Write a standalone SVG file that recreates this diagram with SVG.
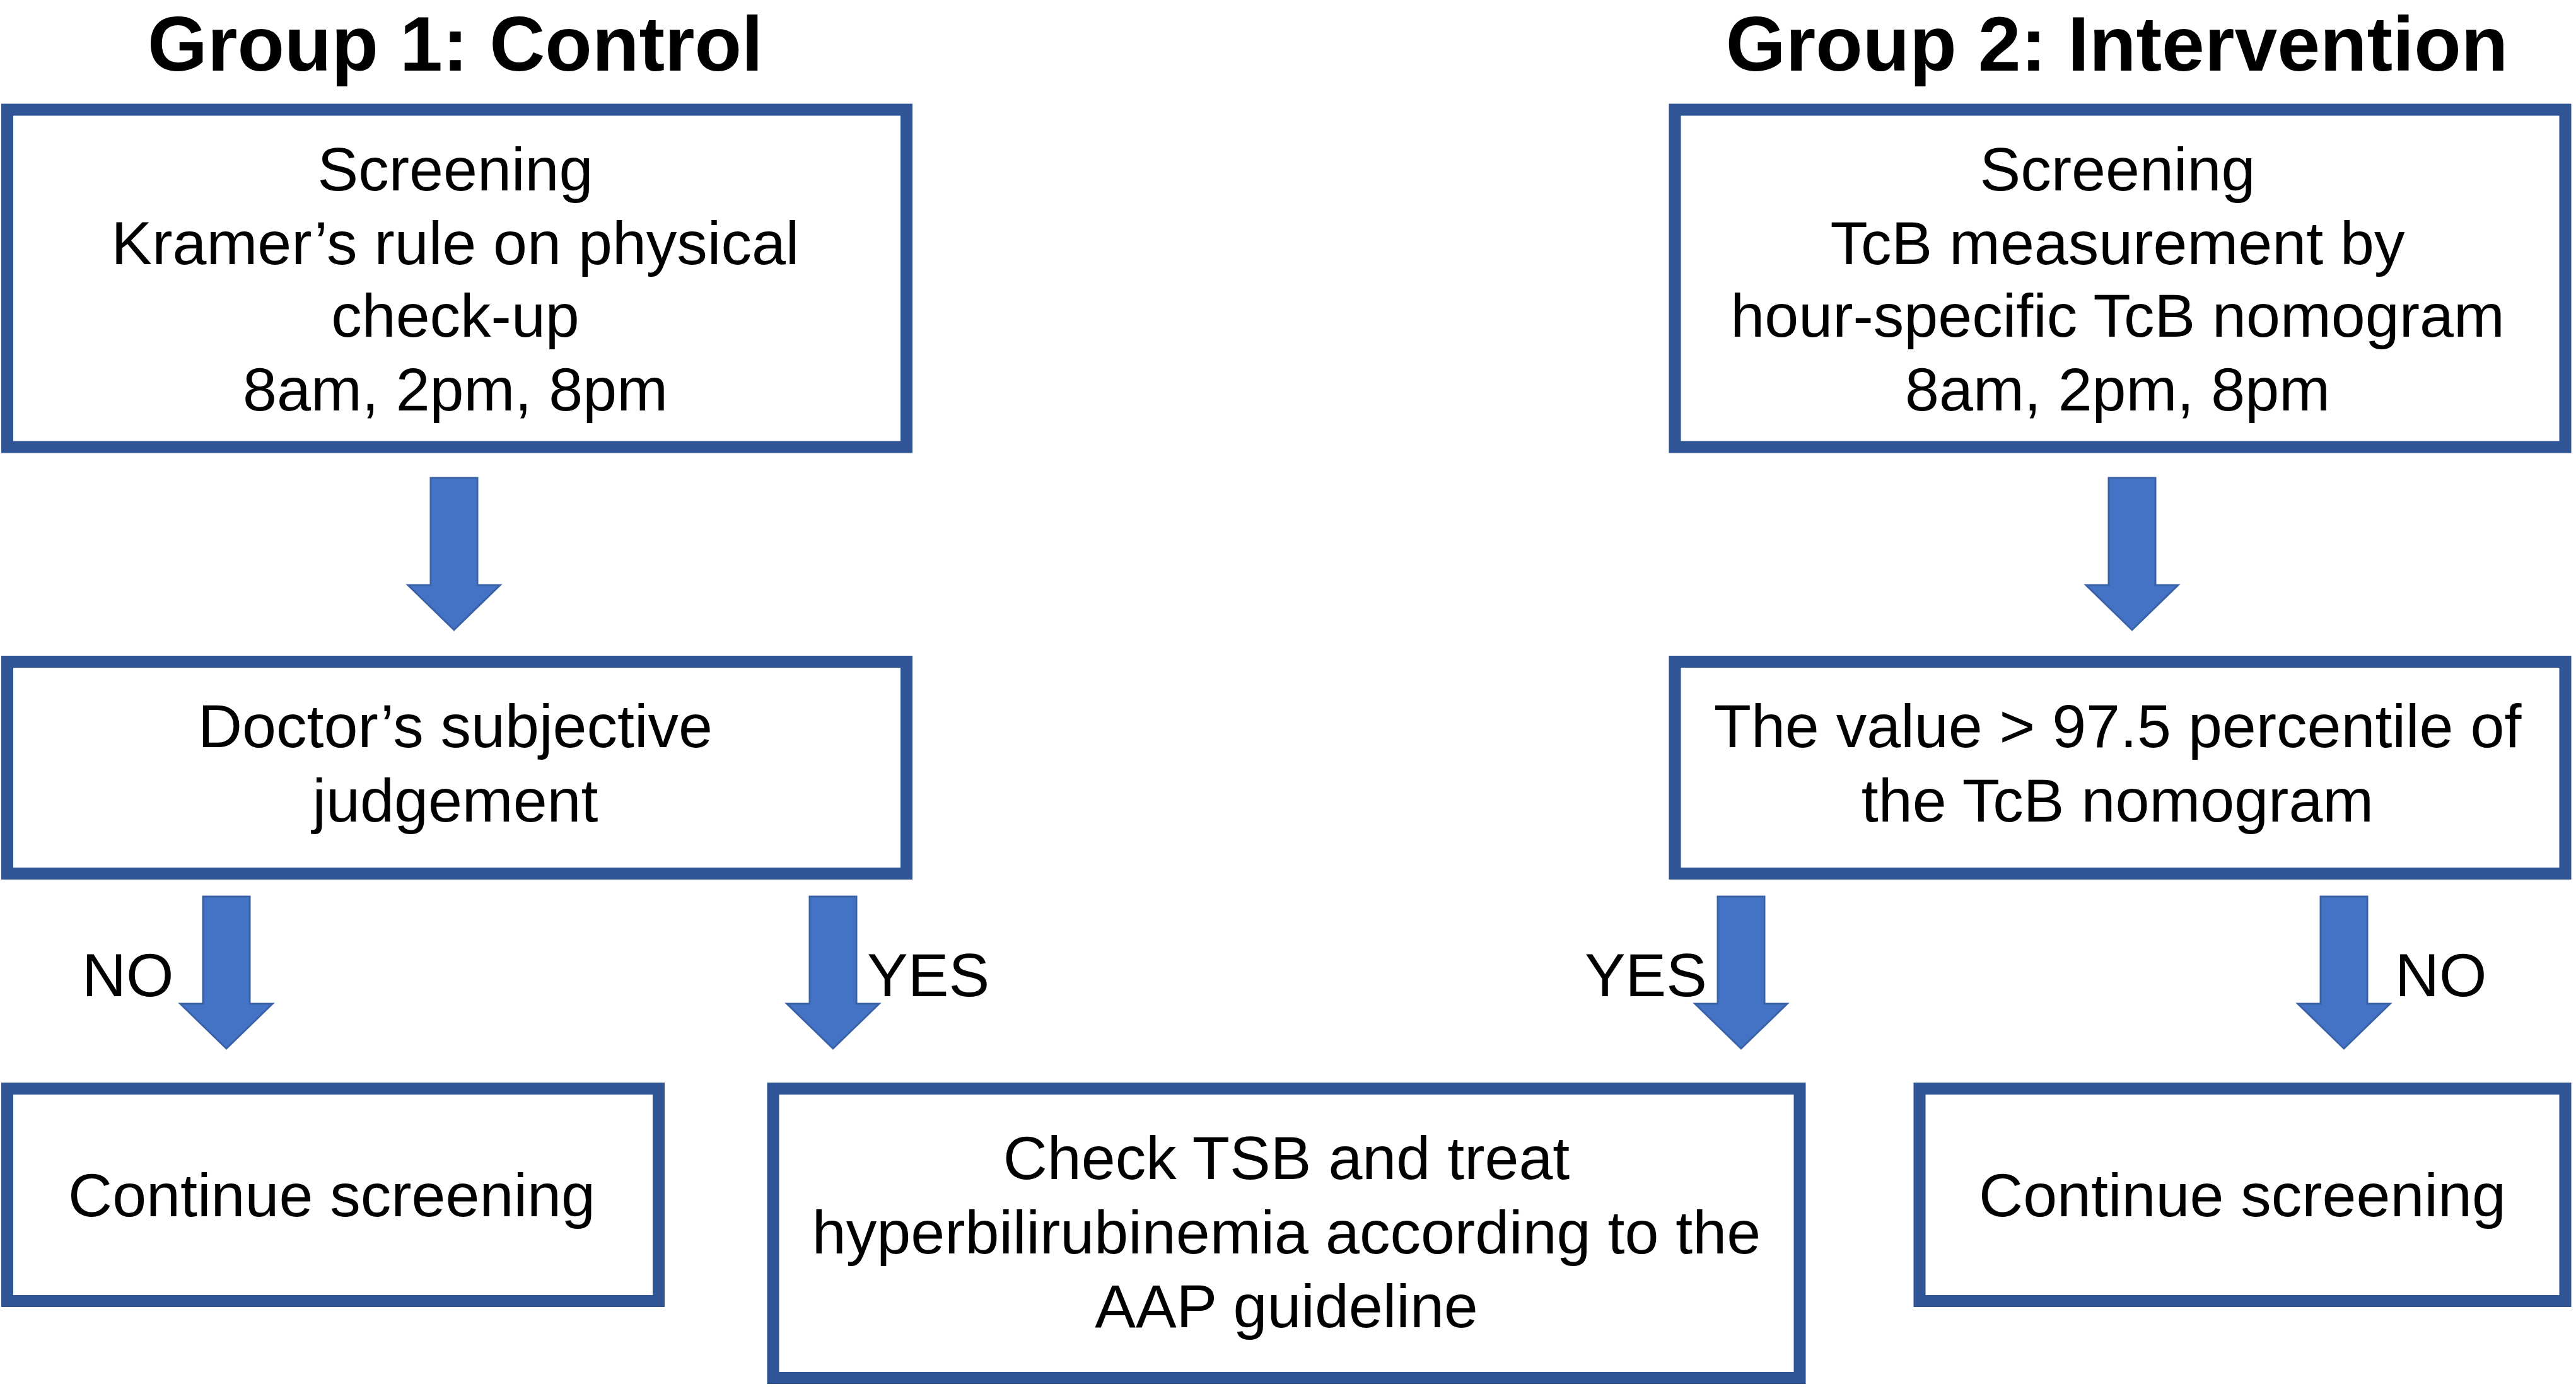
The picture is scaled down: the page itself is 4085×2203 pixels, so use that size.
<svg xmlns="http://www.w3.org/2000/svg" width="4085" height="2203" viewBox="0 0 4085 2203">
<defs>
<style>
.box{fill:#ffffff;stroke:#2F5597;stroke-width:19}
.t{font-family:"Liberation Sans",Arial,Helvetica,sans-serif;font-size:97px;fill:#000000;text-anchor:middle}
.title{font-family:"Liberation Sans",Arial,Helvetica,sans-serif;font-size:122px;font-weight:bold;fill:#000000;text-anchor:middle}
.lbl{font-family:"Liberation Sans",Arial,Helvetica,sans-serif;font-size:97px;fill:#000000}
.arr{fill:#4472C4;stroke:#3A62A8;stroke-width:3}
</style>
<path id="darrow" d="M-37,0 H37 V170 H73 L0,241 L-73,170 H-37 Z"/>
</defs>
<rect width="4085" height="2203" fill="#ffffff"/>
<text class="title" x="722" y="112">Group 1: Control</text>
<text class="title" x="3357" y="112">Group 2: Intervention</text>

<g id="connectors">
<use href="#darrow" class="arr" x="720" y="758"/>
<use href="#darrow" class="arr" x="3381" y="758"/>
<use href="#darrow" class="arr" x="359" y="1422"/>
<use href="#darrow" class="arr" x="1321" y="1422"/>
<use href="#darrow" class="arr" x="2761" y="1422"/>
<use href="#darrow" class="arr" x="3717" y="1422"/>
<text class="lbl" x="130" y="1580">NO</text>
<text class="lbl" x="1375" y="1580">YES</text>
<text class="lbl" x="2707" y="1580" text-anchor="end">YES</text>
<text class="lbl" x="3798" y="1580">NO</text>
</g>

<g id="n1">
<rect class="box" x="11.5" y="174" width="1426" height="535"/>
<text class="t" x="722" y="302">Screening</text>
<text class="t" x="722" y="419">Kramer’s rule on physical</text>
<text class="t" x="722" y="534">check-up</text>
<text class="t" x="722" y="651">8am, 2pm, 8pm</text>
</g>

<g id="n2">
<rect class="box" x="2656" y="174" width="1412" height="535"/>
<text class="t" x="3358" y="302">Screening</text>
<text class="t" x="3358" y="419">TcB measurement by</text>
<text class="t" x="3358" y="534">hour-specific TcB nomogram</text>
<text class="t" x="3358" y="651">8am, 2pm, 8pm</text>
</g>

<g id="n3">
<rect class="box" x="11.5" y="1049.5" width="1426" height="336"/>
<text class="t" x="722" y="1185">Doctor’s subjective</text>
<text class="t" x="722" y="1303">judgement</text>
</g>

<g id="n4">
<rect class="box" x="2656" y="1049.5" width="1412" height="336"/>
<text class="t" x="3358" y="1185">The value &gt; 97.5 percentile of</text>
<text class="t" x="3358" y="1303">the TcB nomogram</text>
</g>

<g id="n5">
<rect class="box" x="11.5" y="1726.5" width="1033" height="337"/>
<text class="t" x="526" y="1929">Continue screening</text>
</g>

<g id="n6">
<rect class="box" x="1226" y="1726.5" width="1628" height="459"/>
<text class="t" x="2040" y="1870">Check TSB and treat</text>
<text class="t" x="2040" y="1988">hyperbilirubinemia according to the</text>
<text class="t" x="2040" y="2105">AAP guideline</text>
</g>

<g id="n7">
<rect class="box" x="3044" y="1726.5" width="1024" height="337"/>
<text class="t" x="3556" y="1929">Continue screening</text>
</g>
</svg>
